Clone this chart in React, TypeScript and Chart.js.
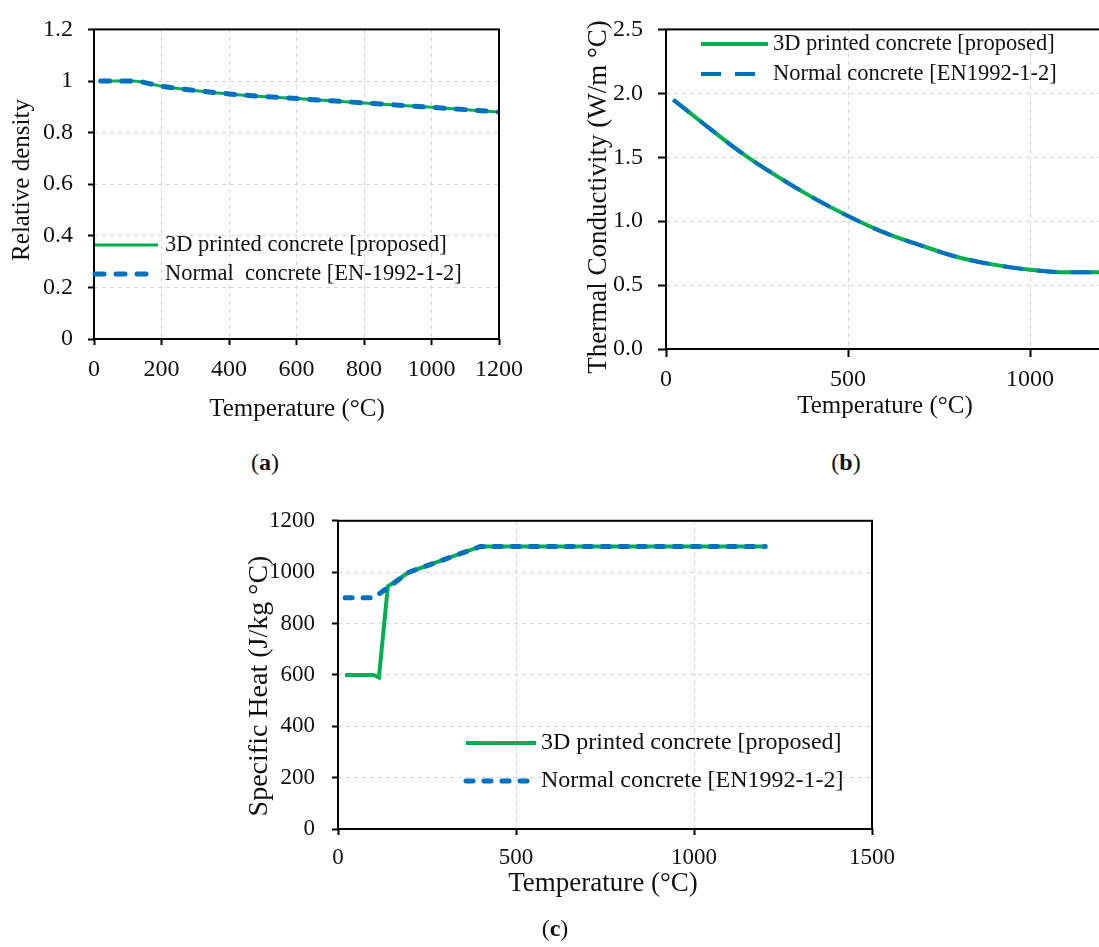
import React, { useEffect, useRef } from "react";
import { Chart, registerables } from "chart.js";

Chart.register(...registerables);

const FONT = "'Liberation Serif', 'Times New Roman', serif";
const GREEN = "#00B050";
const BLUE = "#0070C0";
const GRID = "#d4d4d4";
const TEXT = "#111111";

// ---------- (a) Relative density ----------
const densityTemperature = [20, 115, 200, 400, 600, 800, 1000, 1200];
const densityPrinted = [1.0, 1.0, 0.98, 0.95, 0.932, 0.915, 0.898, 0.88];
const densityNormal = [1.0, 1.0, 0.98, 0.95, 0.932, 0.915, 0.898, 0.88];
const densityXTicks = [0, 200, 400, 600, 800, 1000, 1200];
const densityXLabels = ["0", "200", "400", "600", "800", "1000", "1200"];
const densityYTicks = [0, 0.2, 0.4, 0.6, 0.8, 1.0, 1.2];
const densityYLabels = ["0", "0.2", "0.4", "0.6", "0.8", "1", "1.2"];
const densityLegend = ["3D printed concrete [proposed]", "Normal  concrete [EN-1992-1-2]"];

// ---------- (b) Thermal conductivity ----------
const condTemperature = [20, 100, 200, 300, 400, 500, 600, 700, 800, 900, 1000, 1100, 1200];
const condPrinted = [1.95, 1.77, 1.55, 1.36, 1.19, 1.04, 0.91, 0.81, 0.72, 0.66, 0.62, 0.6, 0.6];
const condNormal = [1.95, 1.77, 1.55, 1.36, 1.19, 1.04, 0.91, 0.81, 0.72, 0.66, 0.62, 0.6, 0.6];
const condXTicks = [0, 500, 1000, 1500];
const condXLabels = ["0", "500", "1000", "1500"];
const condYTicks = [0, 0.5, 1.0, 1.5, 2.0, 2.5];
const condYLabels = ["0.0", "0.5", "1.0", "1.5", "2.0", "2.5"];
const condLegend = ["3D printed concrete [proposed]", "Normal concrete [EN1992-1-2]"];

// ---------- (c) Specific heat ----------
const heatTemperaturePrinted = [20, 100, 115, 140, 200, 400, 1200];
const heatPrinted = [600, 600, 590, 945, 1000, 1100, 1100];
const heatTemperatureNormal = [20, 100, 115, 140, 200, 400, 1200];
const heatNormal = [900, 900, 915, 940, 1000, 1100, 1100];
const heatXTicks = [0, 500, 1000, 1500];
const heatXLabels = ["0", "500", "1000", "1500"];
const heatYTicks = [0, 200, 400, 600, 800, 1000, 1200];
const heatYLabels = ["0", "200", "400", "600", "800", "1000", "1200"];
const heatLegend = ["3D printed concrete [proposed]", "Normal concrete [EN1992-1-2]"];

const axisTitleX = "Temperature (°C)";

type Row = { x0: number; x1: number; y: number; tx: number };
type TitleItem = { text: string; x: number; y: number; rot: number; size: number };

const framePlugin = {
  id: "frameBox",
  afterDraw(chart: any) {
    const { ctx, chartArea: a } = chart;
    ctx.save();
    ctx.strokeStyle = "#000";
    ctx.lineWidth = 2;
    ctx.strokeRect(a.left, a.top, a.right - a.left, a.bottom - a.top);
    ctx.restore();
  },
};

function makeLegendPlugin(rows: Row[], font: string) {
  return {
    id: "inlineLegend",
    afterDraw(chart: any) {
      const ctx = chart.ctx;
      chart.data.datasets.forEach((ds: any, i: number) => {
        const r = rows[i];
        if (!r) return;
        ctx.save();
        ctx.strokeStyle = ds.borderColor;
        ctx.lineWidth = ds.borderWidth;
        ctx.setLineDash(ds.borderDash || []);
        ctx.lineCap = ds.borderCapStyle || "butt";
        ctx.beginPath();
        ctx.moveTo(r.x0, r.y);
        ctx.lineTo(r.x1, r.y);
        ctx.stroke();
        ctx.setLineDash([]);
        ctx.fillStyle = TEXT;
        ctx.font = font;
        ctx.textAlign = "left";
        ctx.textBaseline = "middle";
        ctx.fillText(ds.label, r.tx, r.y);
        ctx.restore();
      });
    },
  };
}

function makeTitlesPlugin(items: TitleItem[]) {
  return {
    id: "axisTitles",
    afterDraw(chart: any) {
      const ctx = chart.ctx;
      items.forEach((t) => {
        ctx.save();
        ctx.translate(t.x, t.y);
        ctx.rotate(t.rot);
        ctx.font = `${t.size}px ${FONT}`;
        ctx.fillStyle = TEXT;
        ctx.textAlign = "center";
        ctx.textBaseline = "middle";
        ctx.fillText(t.text, 0, 0);
        ctx.restore();
      });
    },
  };
}

function axis(opts: {
  min: number;
  max: number;
  ticks: number[];
  labels: string[];
  size: number;
  tickLen: number;
  pad: number;
  fixed: number;
  horizontal: boolean;
}) {
  return {
    type: "linear",
    min: opts.min,
    max: opts.max,
    afterBuildTicks: (s: any) => {
      s.ticks = opts.ticks.map((v) => ({ value: v }));
    },
    afterFit: (s: any) => {
      if (opts.horizontal) s.height = opts.fixed;
      else s.width = opts.fixed;
    },
    ticks: {
      callback: (_v: any, i: number) => opts.labels[i],
      font: { family: FONT, size: opts.size },
      color: TEXT,
      padding: opts.pad,
      autoSkip: false,
      maxRotation: 0,
      minRotation: 0,
    },
    grid: {
      color: GRID,
      lineWidth: 1,
      drawTicks: true,
      tickLength: opts.tickLen,
      tickColor: "#000",
      tickWidth: 2,
      tickBorderDash: [],
    },
    border: { display: false, dash: [4, 4] },
    title: { display: false },
  };
}

function lineSets(
  labels: string[],
  xs1: number[],
  ys1: number[],
  xs2: number[],
  ys2: number[],
  style: { gw: number; bw: number; dash: number[]; cap: string; smooth: boolean }
) {
  const common = style.smooth ? { cubicInterpolationMode: "monotone" } : { tension: 0 };
  return [
    {
      label: labels[0],
      data: xs1.map((x, i) => ({ x, y: ys1[i] })),
      borderColor: GREEN,
      backgroundColor: GREEN,
      borderWidth: style.gw,
      pointRadius: 0,
      fill: false,
      order: 2,
      borderCapStyle: "butt",
      ...common,
    },
    {
      label: labels[1],
      data: xs2.map((x, i) => ({ x, y: ys2[i] })),
      borderColor: BLUE,
      backgroundColor: BLUE,
      borderWidth: style.bw,
      borderDash: style.dash,
      borderCapStyle: style.cap,
      pointRadius: 0,
      fill: false,
      order: 1,
      ...common,
    },
  ];
}

function baseOptions(padding: any, x: any, y: any) {
  return {
    responsive: false,
    animation: false,
    devicePixelRatio: 1,
    layout: { padding },
    plugins: { legend: { display: false }, tooltip: { enabled: false } },
    events: [],
    scales: { x, y },
  };
}

function buildA() {
  return {
    type: "line",
    data: {
      datasets: lineSets(densityLegend, densityTemperature, densityPrinted, densityTemperature, densityNormal, {
        gw: 3,
        bw: 5,
        dash: [9, 12],
        cap: "round",
        smooth: true,
      }),
    },
    options: baseOptions(
      { left: 0, top: 20, right: 61, bottom: 0 },
      axis({ min: 0, max: 1200, ticks: densityXTicks, labels: densityXLabels, size: 24, tickLen: 6, pad: 10, fixed: 101, horizontal: true }),
      axis({ min: 0, max: 1.2, ticks: densityYTicks, labels: densityYLabels, size: 24, tickLen: 6, pad: 15, fixed: 94, horizontal: false })
    ),
    plugins: [
      framePlugin,
      makeLegendPlugin(
        [
          { x0: 95, x1: 158, y: 245, tx: 165 },
          { x0: 95, x1: 152, y: 274, tx: 165 },
        ],
        `22.5px ${FONT}`
      ),
      makeTitlesPlugin([
        { text: "Relative density", x: 22, y: 180, rot: -Math.PI / 2, size: 25 },
        { text: axisTitleX, x: 297, y: 409, rot: 0, size: 25 },
      ]),
    ],
  };
}

function buildB() {
  return {
    type: "line",
    data: {
      datasets: lineSets(condLegend, condTemperature, condPrinted, condTemperature, condNormal, {
        gw: 4,
        bw: 4,
        dash: [20, 14],
        cap: "butt",
        smooth: true,
      }),
    },
    options: baseOptions(
      { left: 0, top: 16, right: 48, bottom: 0 },
      axis({ min: 0, max: 1500, ticks: condXTicks, labels: condXLabels, size: 24, tickLen: 8, pad: 8, fixed: 91, horizontal: true }),
      axis({ min: 0, max: 2.5, ticks: condYTicks, labels: condYLabels, size: 24, tickLen: 8, pad: 15, fixed: 106, horizontal: false })
    ),
    plugins: [
      framePlugin,
      makeLegendPlugin(
        [
          { x0: 141, x1: 208, y: 44, tx: 213 },
          { x0: 141, x1: 208, y: 74, tx: 213 },
        ],
        `22.5px ${FONT}`
      ),
      makeTitlesPlugin([
        { text: "Thermal Conductivity (W/m °C)", x: 39, y: 197, rot: -Math.PI / 2, size: 27 },
        { text: axisTitleX, x: 325, y: 406, rot: 0, size: 25 },
      ]),
    ],
  };
}

function buildC() {
  return {
    type: "line",
    data: {
      datasets: lineSets(heatLegend, heatTemperaturePrinted, heatPrinted, heatTemperatureNormal, heatNormal, {
        gw: 4,
        bw: 5,
        dash: [7, 11],
        cap: "round",
        smooth: false,
      }),
    },
    options: baseOptions(
      { left: 0, top: 16, right: 68, bottom: 0 },
      axis({ min: 0, max: 1500, ticks: heatXTicks, labels: heatXLabels, size: 23, tickLen: 6, pad: 9, fixed: 118, horizontal: true }),
      axis({ min: 0, max: 1200, ticks: heatYTicks, labels: heatYLabels, size: 23, tickLen: 6, pad: 17, fixed: 98, horizontal: false })
    ),
    plugins: [
      framePlugin,
      makeLegendPlugin(
        [
          { x0: 226, x1: 296, y: 253, tx: 301 },
          { x0: 226, x1: 292, y: 291, tx: 301 },
        ],
        `24px ${FONT}`
      ),
      makeTitlesPlugin([
        { text: "Specific Heat (J/kg °C)", x: 20, y: 196, rot: -Math.PI / 2, size: 28 },
        { text: axisTitleX, x: 363, y: 394, rot: 0, size: 27 },
      ]),
    ],
  };
}

function ChartBox(props: { left: number; top: number; width: number; height: number; build: () => any }) {
  const ref = useRef<HTMLCanvasElement>(null);
  useEffect(() => {
    const chart = new Chart(ref.current as HTMLCanvasElement, props.build());
    return () => chart.destroy();
  }, []);
  return (
    <canvas
      ref={ref}
      width={props.width}
      height={props.height}
      style={{ position: "absolute", left: props.left, top: props.top, width: props.width, height: props.height }}
    />
  );
}

function Caption(props: { cx: number; cy: number; letter: string }) {
  return (
    <div
      style={{
        position: "absolute",
        left: props.cx - 50,
        top: props.cy - 14,
        width: 100,
        height: 28,
        lineHeight: "28px",
        textAlign: "center",
        fontFamily: FONT,
        fontSize: 24,
        color: TEXT,
      }}
    >
      (<b>{props.letter}</b>)
    </div>
  );
}

export default function App() {
  return (
    <div
      style={{
        position: "absolute",
        left: 0,
        top: 0,
        width: 1099,
        height: 947,
        overflow: "hidden",
        background: "#fff",
      }}
    >
      <ChartBox left={0} top={0} width={560} height={440} build={buildA} />
      <ChartBox left={560} top={0} width={700} height={440} build={buildB} />
      <ChartBox left={240} top={490} width={700} height={457} build={buildC} />
      <Caption cx={265} cy={462} letter="a" />
      <Caption cx={846} cy={462} letter="b" />
      <Caption cx={555} cy={928} letter="c" />
    </div>
  );
}
